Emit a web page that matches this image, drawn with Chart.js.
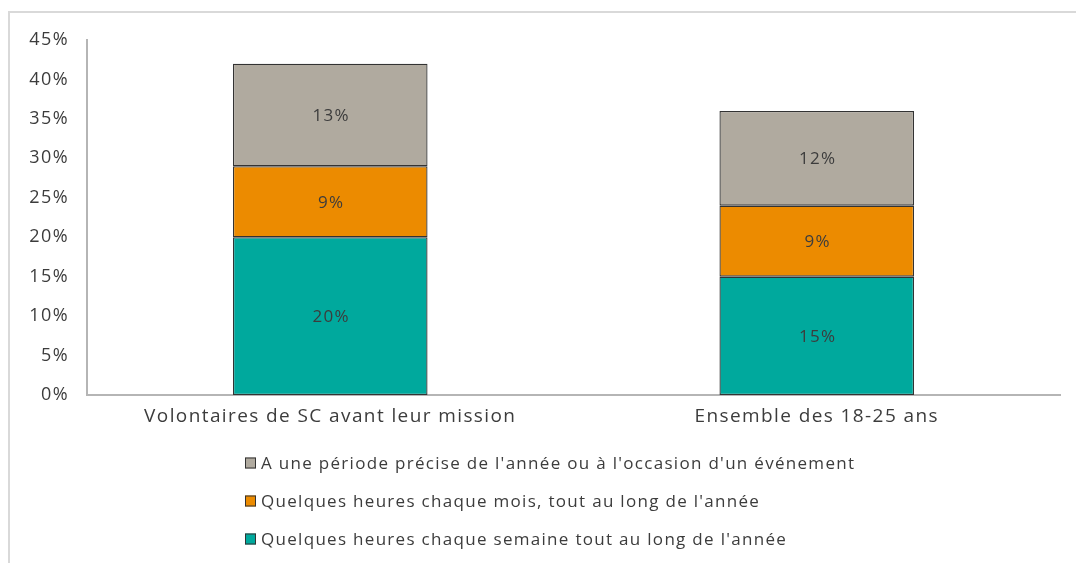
<!DOCTYPE html>
<html>
<head>
<meta charset="utf-8">
<script src="https://cdn.jsdelivr.net/npm/chart.js@4"></script>
<style>
  html, body { margin: 0; padding: 0; background: #ffffff; overflow: hidden; }
  #frame { position: absolute; left: 8px; top: 11px; width: 1200px; height: 700px; border: 2px solid #d9d9d9; box-sizing: border-box; }
  #wrap { position: absolute; left: 0; top: 0; width: 1076px; height: 563px; }
</style>
</head>
<body>
<div id="frame"></div>
<div id="wrap"><canvas id="c" width="1076" height="563"></canvas></div>
<script>
const categories = ['Volontaires de SC avant leur mission', 'Ensemble des 18-25 ans'];
const seriesLabels = [
  "Quelques heures chaque semaine tout au long de l'année",
  "Quelques heures chaque mois, tout au long de l'année",
  "A une période précise de l'année ou à l'occasion d'un événement"
];
const weekly = [20, 15];
const monthly = [9, 9];
const period = [13, 12];
const seriesColors = ['#00a99d', '#ec8b00', '#b0aa9f'];

const FONT = "'Open Sans', 'Lato', sans-serif";
const TEXT = '#3c3c3c';

const spacing = {
  id: 'spacing',
  beforeDraw(chart) { chart.ctx.letterSpacing = '1.4px'; }
};

const valueLabels = {
  id: 'valueLabels',
  afterDatasetsDraw(chart) {
    const ctx = chart.ctx;
    ctx.save();
    ctx.letterSpacing = '1.3px';
    ctx.font = '17px ' + FONT;
    ctx.fillStyle = TEXT;
    ctx.textAlign = 'center';
    ctx.textBaseline = 'middle';
    chart.data.datasets.forEach((ds, di) => {
      const meta = chart.getDatasetMeta(di);
      meta.data.forEach((el, i) => {
        const y = (el.y + el.base) / 2;
        ctx.fillText(ds.data[i] + '%', el.x + 1, y + 1);
      });
    });
    ctx.restore();
  }
};

const sideLegend = {
  id: 'sideLegend',
  afterDraw(chart) {
    const ctx = chart.ctx;
    ctx.save();
    ctx.letterSpacing = '1.3px';
    ctx.font = '17px ' + FONT;
    ctx.textBaseline = 'middle';
    ctx.textAlign = 'left';
    const n = chart.data.datasets.length;
    const x0 = 245, y0 = 463, step = 38, box = 11;
    for (let k = 0; k < n; k++) {
      const ds = chart.data.datasets[n - 1 - k];
      const y = y0 + k * step;
      ctx.fillStyle = ds.backgroundColor;
      ctx.fillRect(x0, y - box / 2, box, box);
      ctx.strokeStyle = '#333333';
      ctx.lineWidth = 1;
      ctx.strokeRect(x0 + 0.5, y - box / 2 + 0.5, box - 1, box - 1);
      ctx.fillStyle = TEXT;
      ctx.fillText(ds.label, x0 + box + 5, y + 1);
    }
    ctx.restore();
  }
};

new Chart(document.getElementById('c'), {
  type: 'bar',
  data: {
    labels: categories,
    datasets: [
      { label: seriesLabels[0], data: weekly, backgroundColor: seriesColors[0] },
      { label: seriesLabels[1], data: monthly, backgroundColor: seriesColors[1] },
      { label: seriesLabels[2], data: period, backgroundColor: seriesColors[2] }
    ].map(d => Object.assign(d, { borderColor: '#333333', borderWidth: 1.3, borderSkipped: false, inflateAmount: 0, barPercentage: 0.4, categoryPercentage: 1 }))
  },
  options: {
    responsive: false,
    animation: false,
    devicePixelRatio: 1,
    layout: { padding: { top: 40, right: 16, left: 0, bottom: 0 } },
    plugins: { legend: { display: false }, tooltip: { enabled: false } },
    scales: {
      x: {
        stacked: true,
        grid: { display: false, drawTicks: false },
        border: { display: true, color: '#b5b5b5', width: 2 },
        ticks: { color: TEXT, font: { family: FONT, size: 19 }, padding: 10, maxRotation: 0 },
        afterFit(s) { s.height = 168; }
      },
      y: {
        stacked: true,
        min: 0, max: 45,
        grid: { display: false, drawTicks: false },
        border: { display: true, color: '#b5b5b5', width: 2 },
        ticks: { stepSize: 5, color: TEXT, font: { family: FONT, size: 18 }, padding: 18, callback: v => v + '%' },
        afterFit(s) { s.width = 87; }
      }
    }
  },
  plugins: [spacing, valueLabels, sideLegend]
});
</script>
</body>
</html>
